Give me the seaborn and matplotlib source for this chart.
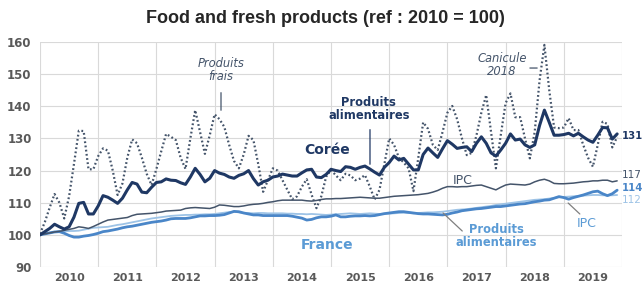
import numpy as np
import pandas as pd
import seaborn as sns
import matplotlib.pyplot as plt

# monthly indices, Jan 2010 - Dec 2019 (2010 = 100)
coree_alim = [100.0, 101.0, 102.0, 103.3, 102.5, 101.8, 102.5, 105.5, 109.8, 110.1, 106.5, 106.5,
              109.0, 112.2, 111.7, 110.8, 109.8, 111.4, 114.0, 116.3, 115.8, 113.3, 113.1, 114.8,
              116.3, 116.5, 117.4, 117.0, 116.9, 116.2, 115.7, 118.0, 120.7, 118.8, 116.5, 117.6,
              120.0, 119.2, 118.8, 118.0, 117.6, 118.5, 119.0, 120.0, 117.5, 115.5, 116.5, 117.0,
              118.0, 118.3, 118.9, 118.6, 118.3, 118.3, 119.3, 120.2, 120.4, 118.0, 117.8, 118.8,
              120.4, 120.0, 119.7, 121.2, 121.0, 120.4, 121.0, 121.4, 120.5, 119.5, 118.6, 121.0,
              122.5, 124.5, 123.3, 123.8, 122.0, 120.2, 120.2, 125.0, 127.0, 125.5, 124.1, 126.8,
              129.3, 128.2, 126.9, 127.2, 127.4, 125.9, 128.5, 130.5, 128.5, 125.5, 124.5, 126.4,
              128.5, 131.4, 129.5, 129.8, 128.0, 127.2, 128.0, 134.0, 138.8, 135.0, 131.0, 131.0,
              131.2, 131.6, 130.8, 131.6, 130.5, 129.5, 128.8, 131.0, 133.4, 133.3, 129.8, 131.4]

coree_frais = [100.3, 104.0, 108.5, 112.7, 110.0, 105.1, 112.0, 122.0, 132.4, 132.3, 120.4, 120.4,
               124.5, 126.9, 126.2, 120.0, 112.4, 116.0, 124.0, 129.7, 128.5, 124.0, 119.0, 115.5,
               120.5, 126.0, 131.4, 130.5, 129.5, 124.0, 120.5, 130.0, 138.8, 132.0, 125.2, 131.0,
               137.5, 136.0, 133.6, 128.0, 123.0, 120.7, 125.0, 130.8, 129.5, 122.0, 113.4, 117.0,
               120.7, 120.0, 117.0, 114.0, 111.1, 112.0, 115.0, 117.3, 112.5, 108.3, 112.0, 118.1,
               120.2, 118.5, 117.0, 119.0, 118.5, 117.0, 117.5, 118.6, 115.0, 111.0, 114.0, 122.0,
               130.0, 128.0, 124.0, 122.5, 120.7, 113.6, 124.0, 135.0, 133.0, 128.0, 126.4, 132.0,
               138.0, 140.1, 136.0, 130.0, 124.8, 125.5, 131.0, 138.0, 143.5, 132.0, 120.7, 131.0,
               141.0, 144.0, 136.6, 136.6, 130.0, 123.8, 132.0, 148.0, 159.1, 145.0, 133.4, 133.2,
               133.4, 136.3, 132.6, 132.6, 128.0, 124.0, 121.2, 128.0, 135.2, 134.5, 127.2, 130.5]

coree_ipc = [100.0, 100.3, 100.6, 100.9, 101.1, 101.4, 101.7, 102.0, 102.5, 102.3, 102.0, 102.6,
             103.3, 104.0, 104.6, 104.8, 105.0, 105.2, 105.4, 106.0, 106.4, 106.5, 106.6, 106.7,
             106.9, 107.1, 107.4, 107.5, 107.6, 107.7, 108.2, 108.4, 108.5, 108.4, 108.3, 108.2,
             108.6, 109.3, 109.2, 109.0, 108.8, 108.8, 109.0, 109.3, 109.5, 109.6, 109.8, 110.1,
             110.3, 110.6, 110.8, 110.8, 110.8, 110.8, 110.8, 110.6, 110.5, 110.7, 111.0, 111.2,
             111.2, 111.3, 111.3, 111.4, 111.5, 111.6, 111.7, 111.6, 111.5, 111.4, 111.4, 111.6,
             111.8, 112.0, 112.1, 112.2, 112.3, 112.4, 112.5, 112.7, 112.9, 113.3, 113.8, 114.5,
             115.0, 115.0, 114.9, 115.0, 115.0, 115.2, 115.4, 115.5, 115.0, 114.5, 114.0, 114.8,
             115.5, 115.8, 115.7, 115.6, 115.5, 115.8, 116.5, 117.0, 117.3, 116.8, 116.0, 115.9,
             115.9, 116.0, 116.1, 116.3, 116.5, 116.6, 116.8, 116.8, 117.0, 117.0, 116.5, 116.8]

france_alim = [100.0, 100.3, 100.6, 100.9, 101.0, 100.5, 99.8, 99.3, 99.3, 99.6, 99.8, 100.1,
               100.5, 101.0, 101.2, 101.5, 101.8, 102.2, 102.5, 102.7, 103.0, 103.3, 103.6, 103.9,
               104.1, 104.3, 104.6, 105.0, 105.1, 105.1, 105.1, 105.3, 105.6, 105.9, 105.9, 106.0,
               106.0, 106.1, 106.3, 106.8, 107.3, 107.2, 106.8, 106.5, 106.2, 106.2, 106.0, 106.0,
               106.0, 106.0, 106.0, 106.0, 105.8, 105.5, 105.2, 104.6, 104.8, 105.3, 105.6, 105.6,
               105.8, 106.2, 105.6, 105.6, 105.8, 105.9, 105.9, 106.0, 105.9, 106.0, 106.3, 106.6,
               106.8, 107.0, 107.2, 107.2, 107.0, 106.8, 106.6, 106.5, 106.5, 106.4, 106.3, 106.2,
               106.4, 106.8, 107.1, 107.5, 107.7, 107.9, 108.1, 108.2, 108.4, 108.6, 108.8, 108.8,
               109.0, 109.2, 109.4, 109.6, 109.7, 110.0, 110.3, 110.5, 110.8, 110.9, 111.4, 111.9,
               111.6, 111.1, 111.6, 112.0, 112.4, 112.9, 113.4, 113.6, 112.8, 112.2, 112.8, 113.9]

france_ipc = [100.0, 100.4, 100.7, 100.9, 101.0, 101.1, 101.2, 101.2, 101.3, 101.6, 101.9, 102.2,
              102.3, 102.4, 102.5, 102.8, 103.1, 103.3, 103.6, 103.9, 104.2, 104.5, 104.8, 105.1,
              105.3, 105.5, 105.7, 105.9, 106.0, 106.1, 106.2, 106.2, 106.3, 106.3, 106.4, 106.4,
              106.5, 106.7, 106.9, 107.1, 107.2, 107.0, 106.8, 106.8, 106.7, 106.8, 106.8, 106.7,
              106.7, 106.7, 106.7, 106.6, 106.6, 106.5, 106.5, 106.4, 106.5, 106.4, 106.3, 106.2,
              106.3, 106.4, 106.5, 106.6, 106.7, 106.6, 106.5, 106.6, 106.7, 106.6, 106.5, 106.6,
              106.6, 106.7, 106.8, 106.9, 106.8, 106.7, 106.8, 106.9, 107.0, 107.0, 107.1, 107.2,
              107.4, 107.6, 107.8, 107.9, 108.0, 108.2, 108.4, 108.6, 108.8, 109.0, 109.3, 109.5,
              109.7, 109.9, 110.1, 110.3, 110.5, 110.7, 110.9, 111.0, 111.1, 111.3, 111.5, 111.7,
              111.8, 111.9, 112.0, 112.1, 112.2, 112.3, 112.4, 112.4, 112.3, 112.3, 112.3, 112.4]

years = list(range(2010, 2020))

navy = "#1F3864"
slate = "#44546A"
mid_blue = "#4A86C8"
light_blue = "#9DC3E6"
text_blue = "#5B9BD5"

t = 2010 + np.arange(len(coree_alim)) / 12
df = pd.DataFrame({"t": t, "coree_alim": coree_alim, "coree_frais": coree_frais,
                   "coree_ipc": coree_ipc, "france_alim": france_alim, "france_ipc": france_ipc})

sns.set_style("white")
plt.rcParams['font.family'] = ['DejaVu Sans']

fig = plt.figure(figsize=(6.44, 2.82), dpi=100)
ax = fig.add_axes([40 / 644, 15 / 282, 582 / 644, 225 / 282])

sns.lineplot(data=df, x="t", y="france_ipc", color=light_blue, lw=1.3, ax=ax)
sns.lineplot(data=df, x="t", y="france_alim", color=mid_blue, lw=2.0, ax=ax)
sns.lineplot(data=df, x="t", y="coree_ipc", color=slate, lw=1.1, ax=ax)
sns.lineplot(data=df, x="t", y="coree_frais", color=slate, lw=1.6, ax=ax)
ax.lines[-1].set_linestyle((0, (0.8, 1.1)))
sns.lineplot(data=df, x="t", y="coree_alim", color=navy, lw=2.2, ax=ax)

ax.set_xlim(2010, 2020)
ax.set_ylim(90, 160)
ax.set_yticks(range(90, 161, 10))
ax.set_xticks(range(2010, 2021))
ax.set_xticks([y + 0.5 for y in years], minor=True)
ax.set_xticklabels([])
ax.set_xticklabels([str(y) for y in years], minor=True)
ax.tick_params(axis="x", which="both", length=0, pad=4, labelsize=8, labelcolor="#595959")
ax.tick_params(axis="y", length=0, pad=6, labelsize=8.5, labelcolor="#595959")
for lab in ax.get_xticklabels(minor=True) + ax.get_yticklabels():
    lab.set_fontweight("bold")
ax.grid(True, which="major", color="#D9D9D9", lw=0.8)
for s in ax.spines.values():
    s.set_visible(False)
ax.set_xlabel("")
ax.set_ylabel("")

fig.text(0.505, 0.936, "Food and fresh products (ref : 2010 = 100)", ha="center", va="center",
         fontsize=13, fontweight="bold", family="Liberation Sans")

# annotations
ax.text(2013.11, 151.3, "Produits\nfrais", ha="center", va="center", fontsize=8.3,
        style="italic", color=slate, linespacing=1.0)
ax.annotate("", xy=(2013.11, 137.9), xytext=(2013.11, 145.1),
            arrowprops=dict(arrowstyle="-", color=slate, lw=0.9))
ax.text(2015.65, 139.2, "Produits\nalimentaires", ha="center", va="center", fontsize=8.3,
        fontweight="bold", color=navy, linespacing=1.0)
ax.annotate("", xy=(2015.67, 121.1), xytext=(2015.67, 133.6),
            arrowprops=dict(arrowstyle="-", color=navy, lw=0.9))
ax.text(2014.93, 126.4, "Corée", ha="center", va="center", fontsize=10,
        fontweight="bold", color=navy)
ax.text(2017.27, 116.8, "IPC", ha="center", va="center", fontsize=9, color=slate)
ax.text(2017.94, 152.8, "Canicule\n2018", ha="center", va="center", fontsize=8.3,
        style="italic", color=slate, linespacing=1.0)
ax.annotate("", xy=(2018.59, 151.9), xytext=(2018.37, 151.9),
            arrowprops=dict(arrowstyle="-", color=slate, lw=0.9))
ax.text(2014.94, 96.8, "France", ha="center", va="center", fontsize=10,
        fontweight="bold", color=text_blue)
ax.text(2017.84, 99.6, "Produits\nalimentaires", ha="center", va="center", fontsize=8.3,
        fontweight="bold", color=text_blue, linespacing=1.0)
ax.annotate("", xy=(2017.29, 100.6), xytext=(2016.89, 107.4),
            arrowprops=dict(arrowstyle="-", color="#7F7F7F", lw=0.9))
ax.text(2019.40, 103.4, "IPC", ha="center", va="center", fontsize=9, color=text_blue)
ax.annotate("", xy=(2019.31, 105.9), xytext=(2019.04, 110.5),
            arrowprops=dict(arrowstyle="-", color="#7F7F7F", lw=0.9))

# end values
ax.text(2019.99, 130.9, "131", ha="left", va="center", fontsize=7.3, fontweight="bold", color=navy)
ax.text(2019.99, 118.6, "117", ha="left", va="center", fontsize=7.5, color=slate)
ax.text(2019.99, 114.7, "114", ha="left", va="center", fontsize=7.3, fontweight="bold", color=mid_blue)
ax.text(2019.99, 110.9, "112", ha="left", va="center", fontsize=7.5, color=light_blue)

fig.savefig("out.png", dpi=100)
